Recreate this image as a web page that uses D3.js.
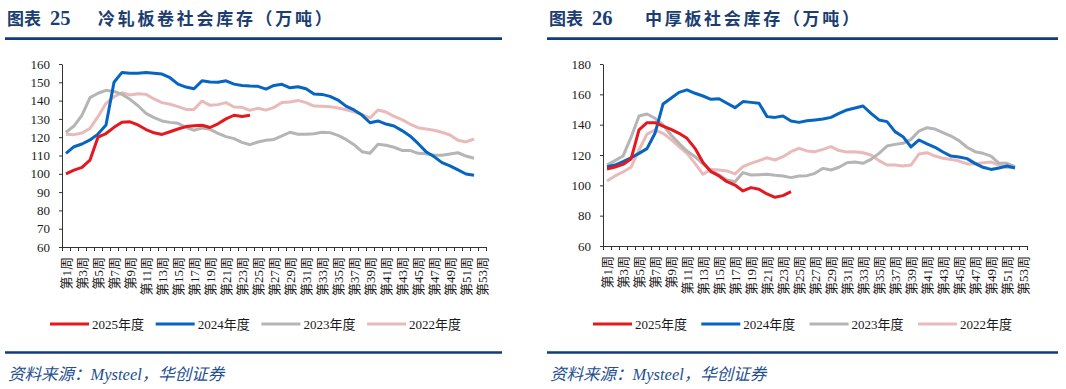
<!DOCTYPE html>
<html><head><meta charset="utf-8">
<script src="https://cdn.jsdelivr.net/npm/d3@7"></script>
<style>
body{margin:0;background:#fff;}
svg{display:block;}
.tick text{font-family:"Liberation Serif","Noto Sans CJK SC",serif;font-size:13px;fill:#1a1a1a;}
</style>
</head><body>
<svg id="c" width="1066" height="389"></svg>
<script>
// ---------- data ----------
const weeks = d3.range(1, 54).map(i => `第${i}周`);
const seriesNames = ["2025年度", "2024年度", "2023年度", "2022年度"];
const seriesColors = ["#E5171F", "#0565C0", "#B5B5B5", "#E8BAB9"];

// 冷轧板卷社会库存（万吨）
const crc2025 = [100,102,103.5,107.5,120,122,125.4,128.2,128.4,126.7,124.2,122.4,121.5,123,124.5,125.8,126.3,126.5,125.3,127.3,130,132,131.3,132];
const crc2024 = [111.2,114.8,116.3,118.5,121.7,126.7,150,155.4,155,155,
                 155.3,154.9,154.5,152.5,149,147.4,146.5,150.8,150.2,150,
                 150.8,149,148.3,148,147.8,146.3,148.3,148.9,147,147.6,
                 146.5,143.6,143.4,142.3,140.3,137,134.9,132.1,127.9,128.9,
                 127.2,126.1,123.6,120.7,116.6,112.1,109.4,106.1,104.3,102.1,99.9,99.2];
const crc2023 = [122.7,126.1,132.1,141.6,144,145.6,145,143.4,140.7,137.2,
                 133,130.7,128.9,128.1,127.6,125.4,123.8,125,124.3,122.1,
                 120.3,119.2,117.2,115.9,117.4,118.3,118.8,120.7,122.7,121.6,
                 121.6,121.9,122.7,122.5,121,118.8,115.9,112.1,111.2,116.1,
                 115.6,114.5,112.8,112.8,111.2,111,110.1,110.1,110.8,111.5,109.7,108.5];
const crc2022 = [121.6,121.4,122.3,124.8,131.2,138.5,142.1,144.3,143.1,143.8,
                 143.4,140.9,138.9,138,136.7,135.2,135.2,139.8,137.4,137.8,
                 138.9,136.5,136.3,134.7,135.8,134.8,136.3,139,139.2,140.1,
                 138.9,137,136.9,136.7,136,135,133.9,132.3,130.5,134.9,
                 133.8,131.4,129.6,127.2,125.2,124.5,123.8,122.7,121.2,118.3,117.4,119];
const crcTicks = [60,70,80,90,100,110,120,130,140,150,160];

// 中厚板社会库存（万吨）
const plate2025 = [110.8,112.1,113.8,117.3,136.5,141.3,141.3,139.1,136.9,134.3,131,124.4,115,109,106.2,102.4,100.2,96.3,98.5,97.4,94.3,92.1,93.2,95.8];
const plate2024 = [112.3,113.4,115.6,118.2,121.1,124.2,134.3,153.6,157.4,161.3,
                   162.9,160.7,158.9,156.7,157.1,154.1,151.2,155.2,154.7,154.1,
                   145.3,144.8,145.7,142.4,141.5,142.6,143.1,143.7,144.8,147.5,
                   149.7,151,152.3,147.5,143.1,142,135.4,132.1,125.3,129.9,
                   127.3,125.1,122,119.3,118.7,117.6,114.5,111.9,110.5,111.4,112.7,111.4];
const plate2023 = [113.4,116.3,119.3,131.6,145.7,147,144.2,139.8,133.2,127.7,
                   122.6,118.9,114.1,109.7,106.8,103.5,102.4,108.4,106.8,107,
                   107.3,106.6,106.2,105.1,106.2,106.4,107.9,111.2,110.1,111.9,
                   114.9,115.4,114.5,117.1,121.1,125.9,127,127.7,130.3,135.8,
                   138,137.1,134.7,132.5,129.5,125.1,122.2,121.1,119.3,114.5,114.5,112.3];
const plate2022 = [102.9,106.2,108.8,111.9,123.3,133.8,136.5,134.3,130.3,125.5,
                   121.1,114.5,107.3,110.5,110.1,109.5,107.5,112.3,114.5,116.3,
                   118.2,116.7,118.9,122.2,124.4,122.7,122.2,123.7,125.5,122.9,
                   122,122.2,121.5,120,116.3,113.4,113.4,112.7,113.4,120.7,
                   121.5,119.3,117.8,117.1,116,114.1,114.1,114.9,115.4,113.2,111.6,112.3];
const plateTicks = [60,80,100,120,140,160,180];

const panels = [
  {num:"25", title:"冷轧板卷社会库存（万吨）", left:0, titleX:7, mainX:98, ruleX0:5, ruleX1:502,
   x0:62, x1:486, yTop:64, yBot:247, ticks:crcTicks,
   series:[crc2025, crc2024, crc2023, crc2022], legendX:50, legendStep:105.7},
  {num:"26", title:"中厚板社会库存（万吨）", left:0, titleX:549, mainX:645, ruleX0:547, ruleX1:1058,
   x0:603, x1:1027, yTop:64, yBot:246, ticks:plateTicks,
   series:[plate2025, plate2024, plate2023, plate2022], legendX:593, legendStep:108.3}
];

const svg = d3.select("#c");
svg.append("rect").attr("width",1066).attr("height",389).attr("fill","#fff");

panels.forEach(p => {
  // title
  const t = svg.append("text").attr("x", p.titleX).attr("y", 25).attr("fill", "#1B3D70")
     .style("font-weight", "bold");
  t.append("tspan").text("图表").style("font-family", "'Noto Sans CJK SC'").style("font-size", "17px").style("letter-spacing","0px");
  t.append("tspan").attr("dx", 9).text(p.num).style("font-family", "'Liberation Serif'").style("font-size", "20.5px");
  t.append("tspan").attr("x", p.mainX).text(p.title).style("font-family", "'Noto Sans CJK SC'").style("font-size", "17px").style("letter-spacing", "2.7px");
  svg.append("line").attr("x1", p.ruleX0).attr("x2", p.ruleX1).attr("y1", 38.6).attr("y2", 38.6)
     .attr("stroke", "#0E3C7E").attr("stroke-width", 2.6);
  svg.append("line").attr("x1", p.ruleX0).attr("x2", p.ruleX1).attr("y1", 352.5).attr("y2", 352.5)
     .attr("stroke", "#0E3C7E").attr("stroke-width", 2.6);
  svg.append("text").attr("x", p.titleX + 1).attr("y", 380).attr("fill", "#23508F")
     .style("font-family", "'Liberation Serif','Noto Sans CJK SC'").style("font-style", "italic").style("font-size", "16.5px")
     .text("资料来源：Mysteel，华创证券");

  // scales
  const xb = d3.scaleBand().domain(weeks).range([p.x0, p.x1]).padding(0);
  const xl = d3.scaleLinear().domain([0, weeks.length]).range([p.x0, p.x1]);
  const y = d3.scaleLinear().domain(d3.extent(p.ticks)).range([p.yBot, p.yTop]);

  // y axis
  const ya = svg.append("g").attr("transform", `translate(${p.x0},0)`)
     .call(d3.axisLeft(y).tickValues(p.ticks).tickSize(3).tickSizeOuter(0).tickPadding(9));
  ya.selectAll("path,line").attr("stroke", "#333");

  // x axis tick marks at category boundaries
  const xa = svg.append("g").attr("transform", `translate(0,${p.yBot})`)
     .call(d3.axisBottom(xl).tickValues(d3.range(0, weeks.length + 1)).tickSize(4).tickSizeOuter(0).tickFormat(""));
  xa.selectAll("path,line").attr("stroke", "#333");
  // x labels
  const xlab = svg.append("g").attr("transform", `translate(0,${p.yBot})`)
     .call(d3.axisBottom(xb).tickValues(weeks.filter((d, i) => i % 2 === 0)).tickSize(0));
  xlab.select(".domain").remove();
  xlab.selectAll("text").attr("transform", "rotate(-90)").attr("x", -10).attr("y", 0)
     .attr("dy", "0.36em").style("text-anchor", "end");

  // lines (draw oldest first so 2025 is on top)
  const line = d3.line().x((d, i) => xb(weeks[i]) + xb.bandwidth() / 2).y(d => y(d));
  for (let k = p.series.length - 1; k >= 0; k--) {
    svg.append("path").datum(p.series[k]).attr("d", line).attr("fill", "none")
       .attr("stroke", seriesColors[k]).attr("stroke-width", 3).attr("stroke-linejoin", "round");
  }

  // legend
  seriesNames.forEach((n, k) => {
    const lx = p.legendX + k * p.legendStep;
    svg.append("line").attr("x1", lx).attr("x2", lx + 39).attr("y1", 324).attr("y2", 324)
       .attr("stroke", seriesColors[k]).attr("stroke-width", 3);
    svg.append("text").attr("x", lx + 42).attr("y", 328.5).attr("fill", "#1a1a1a")
       .style("font-family", "'Liberation Serif','Noto Sans CJK SC'").style("font-size", "13px").text(n);
  });
});
</script>
</body></html>
